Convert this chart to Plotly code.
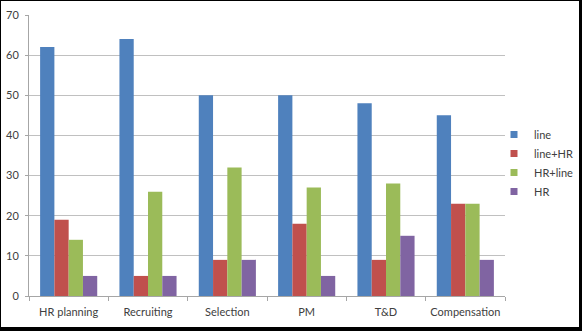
import plotly.graph_objects as go

categories = ["HR planning", "Recruiting", "Selection", "PM", "T&D", "Compensation"]
series_names = ["line", "line+HR", "HR+line", "HR"]
line_vals = [62, 64, 50, 50, 48, 45]
line_hr_vals = [19, 5, 9, 18, 9, 23]
hr_line_vals = [14, 26, 32, 27, 28, 23]
hr_vals = [5, 5, 9, 5, 15, 9]
colors = ["#4F81BD", "#C0504D", "#9BBB59", "#8064A2"]
y_ticks = [0, 10, 20, 30, 40, 50, 60, 70]

series_vals = [line_vals, line_hr_vals, hr_line_vals, hr_vals]

W, H = 582, 331
L, R, T, B = 29, 77, 15, 35
pw, ph = W - L - R, H - T - B

fig = go.Figure()
for name, vals, c in zip(series_names, series_vals, colors):
    fig.add_trace(go.Bar(x=categories, y=vals, name=name, marker_color=c,
                         marker_line_width=0, showlegend=False))
for name, c in zip(series_names, colors):
    fig.add_trace(go.Scatter(x=[None], y=[None], mode="markers", name=name,
                             marker=dict(symbol="square", size=7, color=c)))

def px2paper_x(x):
    return (x - L) / pw

def px2paper_y(y):
    return (H - B - y) / ph

fig.add_shape(type="rect", xref="paper", yref="paper", layer="below",
              x0=px2paper_x(1), x1=px2paper_x(579), y0=px2paper_y(327), y1=px2paper_y(1),
              fillcolor="white", line_width=0)

font = dict(family="Lato, 'Open Sans', sans-serif", size=11, color="#404040")
fig.update_layout(
    width=W, height=H,
    margin=dict(l=L, r=R, t=T, b=B, pad=0, autoexpand=False),
    paper_bgcolor="black", plot_bgcolor="rgba(0,0,0,0)",
    barmode="group", bargap=0.28, bargroupgap=0,
    font=font,
    legend=dict(x=px2paper_x(494), y=px2paper_y(120), xanchor="left", yanchor="top",
                bgcolor="rgba(0,0,0,0)", font=font, itemwidth=30, tracegroupgap=0),
    xaxis=dict(showline=True, linecolor="#a6a6a6", linewidth=1, ticks="outside",
               tickson="boundaries", ticklen=4, tickcolor="#a6a6a6", showgrid=False,
               tickfont=font, tickangle=0, automargin=False, ticklabelstandoff=6),
    yaxis=dict(range=[0, 70], tickvals=y_ticks, showline=True, linecolor="#a6a6a6",
               linewidth=1, ticks="outside", ticklen=3, tickcolor="#a6a6a6",
               gridcolor="#c0c0c0", gridwidth=1, zeroline=False, tickfont=font,
               ticklabelstandoff=4, automargin=False),
)
fig.write_html("out.html")
